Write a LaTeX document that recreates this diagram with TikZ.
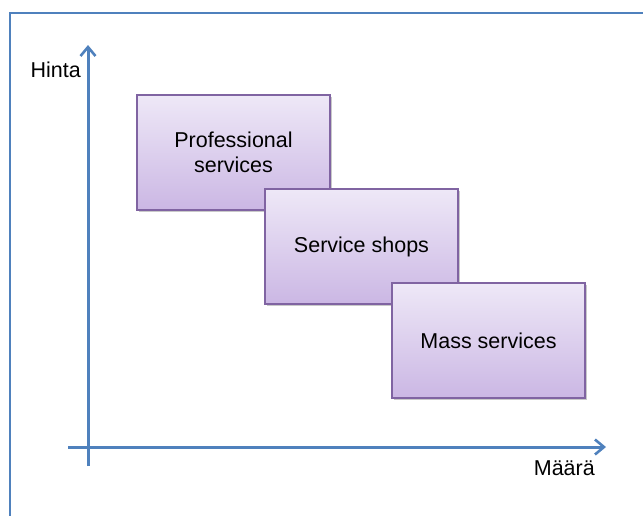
\documentclass[tikz,border=0pt]{standalone}
\usepackage{fontspec}
\setmainfont{Liberation Sans}
\usetikzlibrary{arrows.meta,shadows}
\definecolor{axisblue}{HTML}{4F81BD}
\definecolor{boxedge}{HTML}{8064A2}
\definecolor{boxtop}{HTML}{EEE8F7}
\definecolor{boxbot}{HTML}{CBB7E4}
\tikzset{
  catbox/.style={draw=boxedge, line width=2.8pt, top color=boxtop, bottom color=boxbot,
    minimum width=193pt, minimum height=115pt, inner sep=0pt, align=center,
    font=\fontsize{21.5}{25}\selectfont, text=black,
    drop shadow={shadow xshift=1.5pt, shadow yshift=-2pt, opacity=0.35, fill=black!60}},
  axisline/.style={draw=axisblue, line width=3pt, -{Straight Barb[length=9pt,width=15pt,line width=2.6pt]}},
  axislabel/.style={font=\fontsize{21.5}{25}\selectfont, text=black, inner sep=0pt},
}
\begin{document}
\begin{tikzpicture}[x=1pt,y=-1pt]
\useasboundingbox (0,0) rectangle (643,515);
\fill[white] (0,0) rectangle (643,515);
\draw[axisblue, line width=2.5pt] (10,520) -- (10,13) -- (650,13);
\coordinate (ybot) at (88,466);
\coordinate (ytop) at (88,45);
\coordinate (xleft) at (68,447);
\coordinate (xright) at (606,447);
\draw[axisline] (ybot) -- (ytop);
\draw[axisline] (xleft) -- (xright);
\node[axislabel, anchor=east] (hinta) at (81,70) {Hinta};
\node[axislabel, anchor=east] (maara) at (595,468) {Määrä};
\node[catbox] (prof) at (233.5,152.5) {Professional\\services};
\node[catbox] (shops) at (361.5,246.5) {Service shops};
\node[catbox] (mass) at (488.5,340.5) {Mass services};
\end{tikzpicture}
\end{document}
